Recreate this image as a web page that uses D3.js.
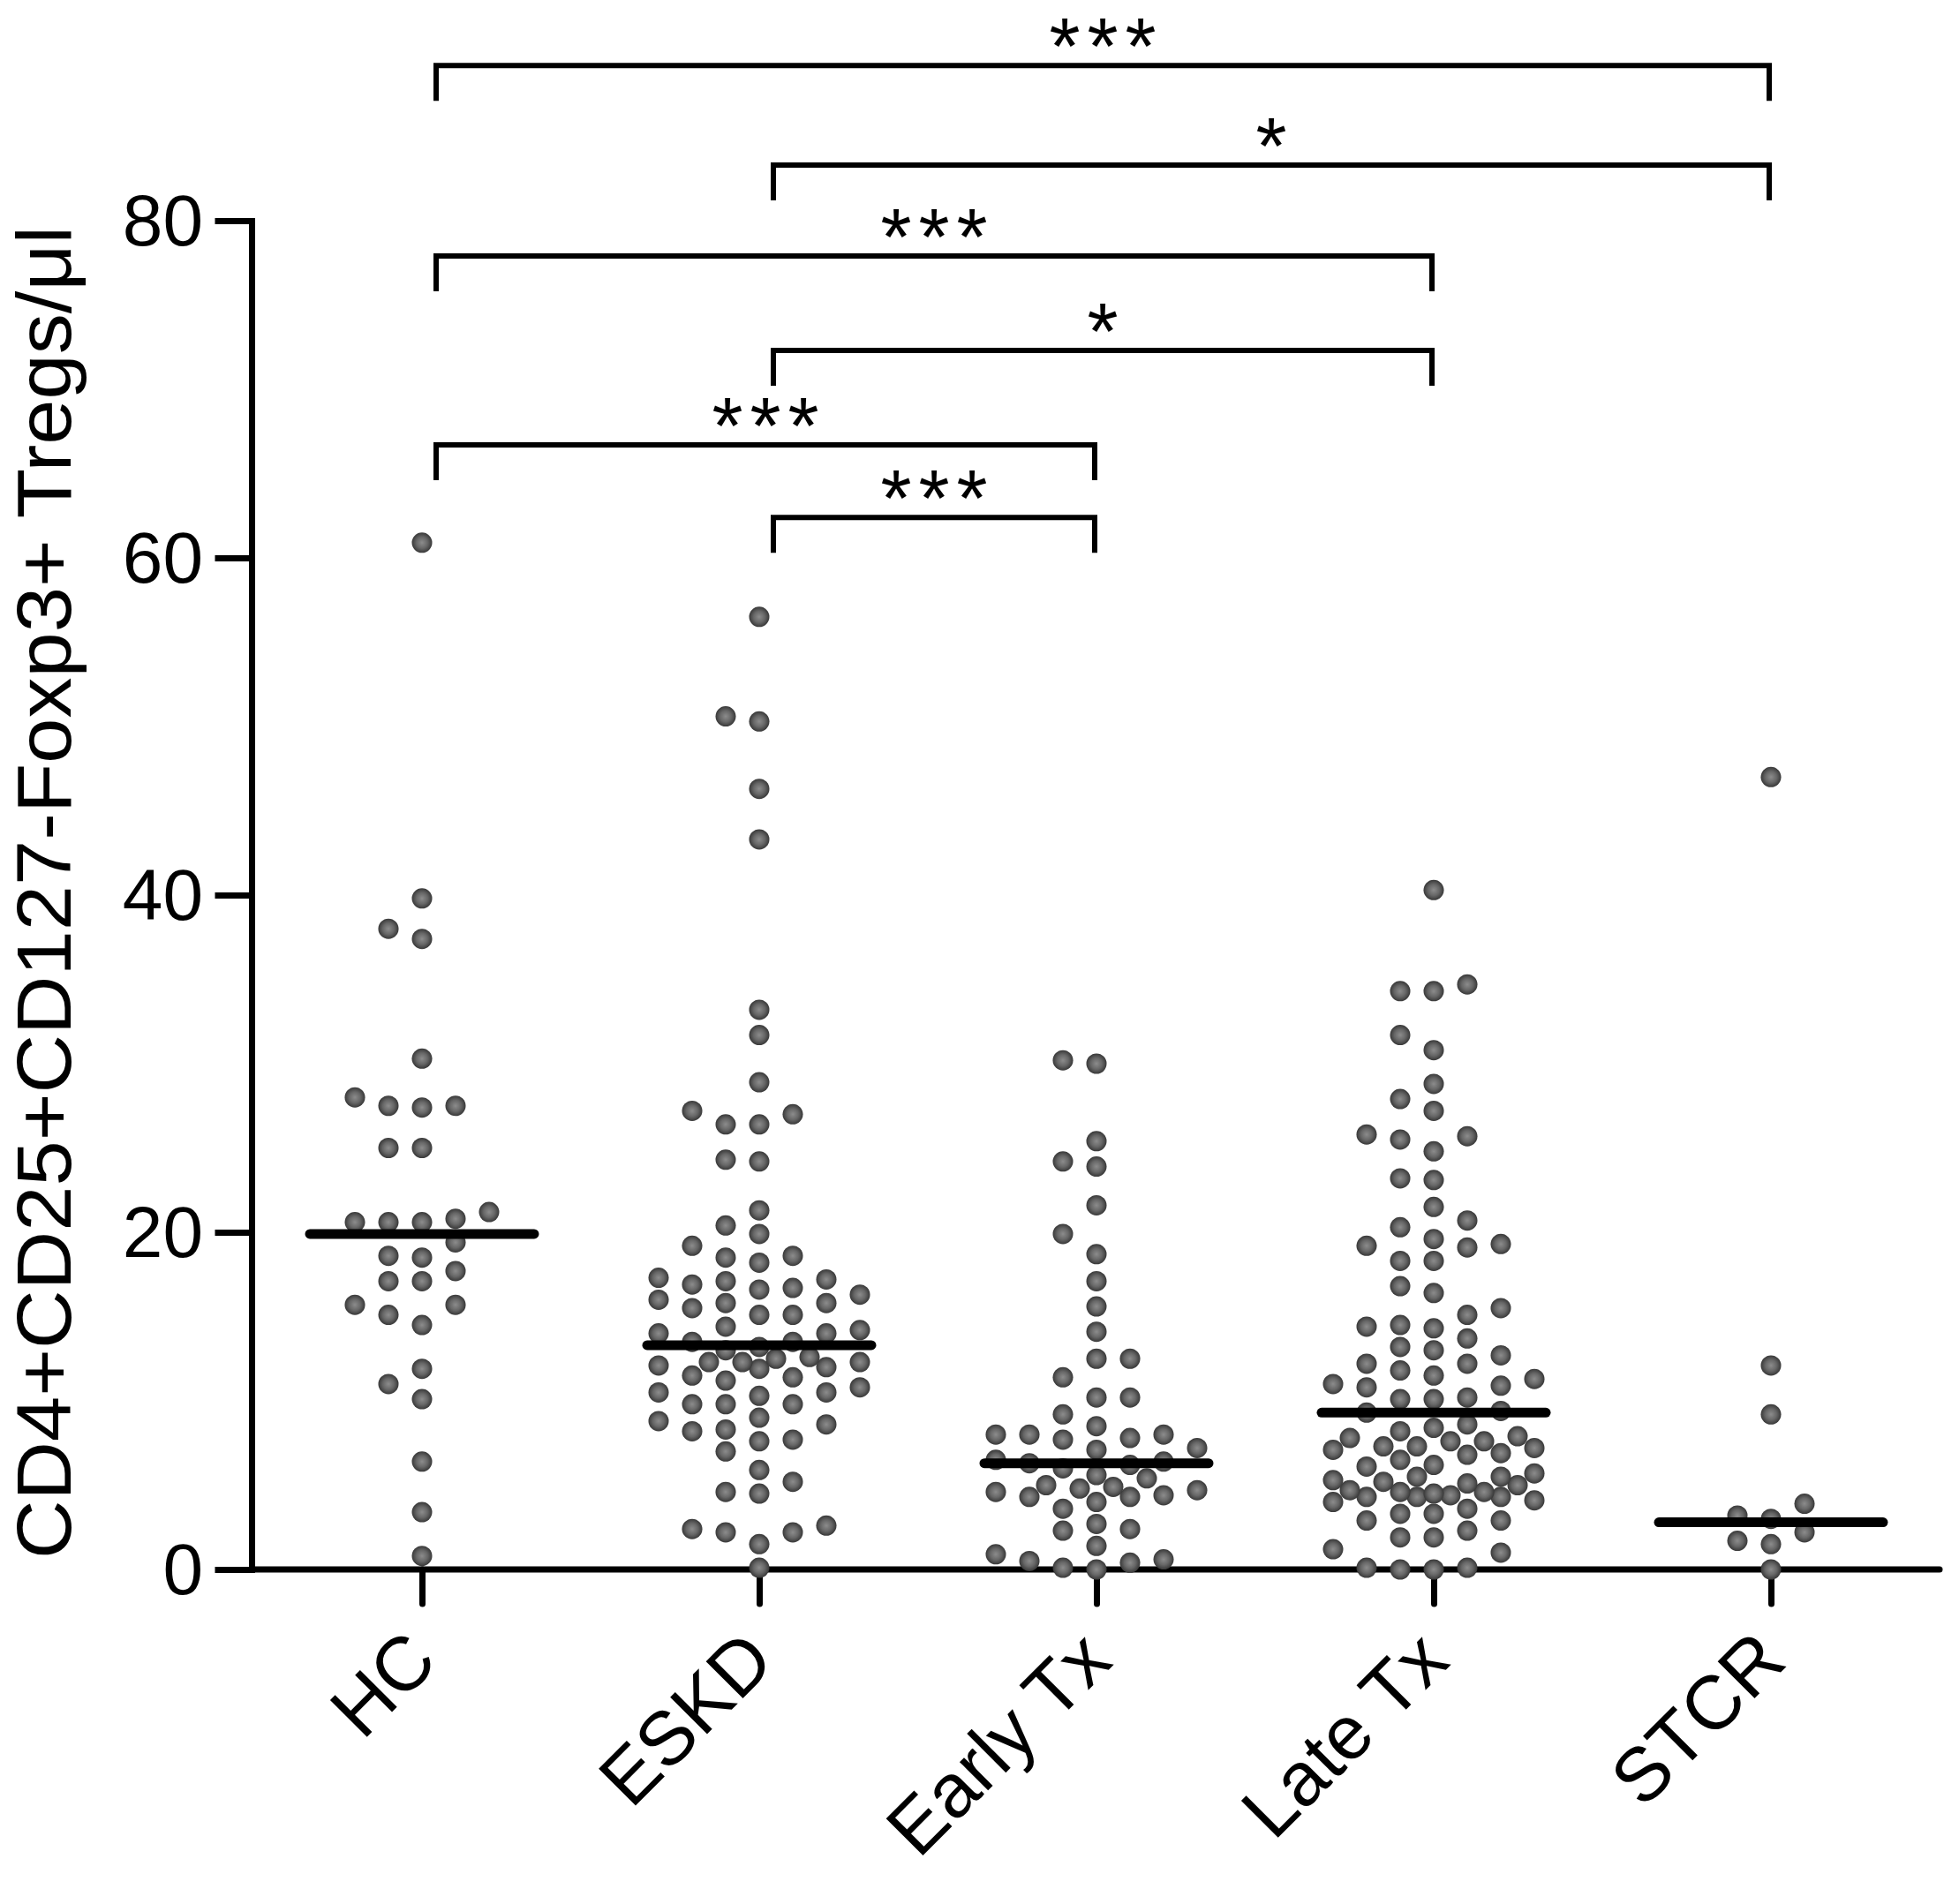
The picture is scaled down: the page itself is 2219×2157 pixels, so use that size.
<!DOCTYPE html>
<html>
<head>
<meta charset="utf-8">
<script src="https://cdn.jsdelivr.net/npm/d3@7"></script>
<style>
    html, body { margin: 0; padding: 0; background: #ffffff; }
    svg text { font-family: Arial, "Liberation Sans", Helvetica, sans-serif; fill: #000; }
</style>
</head>
<body>
<div id="chart"></div>
<script>
// Groups along the x axis
const groups = ["HC", "ESKD", "Early Tx", "Late Tx", "STCR"];

// Treg counts per group (cells/µl)
const hcValues = [60.9, 39.8, 38.0, 37.4, 30.3, 28.0, 27.5, 27.4, 27.5, 25.0, 25.0, 21.2, 20.8, 20.6, 20.6, 20.6,
    19.4, 18.6, 18.5, 17.7, 17.1, 17.1, 15.7, 15.7, 15.1, 14.5, 11.9, 11.0, 10.1, 6.4, 3.4, 0.8];

const eskdValues = [56.5, 50.6, 50.3, 46.3, 43.3, 33.2, 31.7, 28.9, 27.2, 27.0, 26.4, 26.4, 24.3, 24.2, 21.3, 20.4,
    19.9, 19.2, 18.6, 18.5, 18.2, 17.3, 17.2, 17.1, 16.9, 16.7, 16.6, 16.3, 16.0, 15.8, 15.8, 15.5, 15.1, 15.1,
    14.4, 14.2, 14.0, 14.0, 13.5, 13.5, 13.2, 13.0, 12.6, 12.5, 12.3, 12.3, 12.3, 12.1, 12.0, 11.9, 11.5, 11.4,
    11.2, 10.8, 10.5, 10.5, 10.3, 9.8, 9.8, 9.8, 9.0, 8.8, 8.6, 8.3, 8.2, 7.7, 7.6, 7.0, 5.9, 5.2, 4.6, 4.5,
    2.6, 2.4, 2.2, 2.2, 1.5, 0.1];

const earlyValues = [30.2, 30.0, 25.4, 24.2, 23.9, 21.6, 19.9, 18.7, 17.1, 15.6, 14.1, 12.5, 12.5, 11.4, 10.2, 10.2,
    9.2, 8.5, 8.0, 8.0, 8.0, 7.8, 7.7, 7.2, 7.1, 6.5, 6.4, 6.3, 6.2, 6.0, 5.6, 5.4, 5.0, 4.9, 4.8, 4.7, 4.6,
    4.4, 4.3, 4.3, 4.0, 3.6, 2.7, 2.4, 2.3, 1.4, 0.9, 0.6, 0.5, 0.4, 0.1, 0.0];

const lateValues = [40.3, 34.7, 34.3, 34.3, 31.7, 30.8, 28.8, 27.9, 27.2, 25.8, 25.7, 25.5, 24.8, 23.2, 23.1, 21.5,
    20.7, 20.3, 19.6, 19.3, 19.2, 19.1, 18.3, 18.3, 16.8, 16.4, 15.5, 15.1, 14.5, 14.4, 14.3, 13.7, 13.2, 13.0,
    12.7, 12.2, 12.2, 11.8, 11.5, 11.3, 11.0, 10.9, 10.8, 10.2, 10.1, 10.1, 9.4, 9.3, 8.6, 8.4, 8.2, 7.9, 7.8,
    7.6, 7.6, 7.3, 7.3, 7.2, 7.1, 6.9, 6.8, 6.5, 6.2, 6.1, 5.7, 5.5, 5.5, 5.3, 5.2, 5.1, 5.0, 4.7, 4.6, 4.6,
    4.5, 4.4, 4.3, 4.3, 4.3, 4.1, 4.0, 3.6, 3.3, 3.3, 2.9, 2.9, 2.3, 1.9, 1.9, 1.2, 1.0, 0.1, 0.0, 0.0, 0.1];

const stcrValues = [47.0, 12.1, 9.2, 3.9, 3.2, 3.0, 2.2, 1.7, 1.5, 0.0];

// Median bar of each group
const medians = [19.9, 13.3, 6.3, 9.3, 2.8];

// Axis
const yTicks = [0, 20, 40, 60, 80];
const yTitle = "CD4+CD25+CD127-Foxp3+ Tregs/\u03BCl";

// Significance brackets (level on the value axis)
const comparisons = [
    { from: "HC", to: "STCR", level: 89.2, label: "***" },
    { from: "ESKD", to: "STCR", level: 83.3, label: "*" },
    { from: "HC", to: "Late Tx", level: 77.9, label: "***" },
    { from: "ESKD", to: "Late Tx", level: 72.3, label: "*" },
    { from: "HC", to: "Early Tx", level: 66.7, label: "***" },
    { from: "ESKD", to: "Early Tx", level: 62.4, label: "***" }
];

class SwarmVis {
    constructor(parentElement, groups, seriesList, medians, comparisons) {
        this.parentElement = parentElement;
        this.groups = groups;
        this.seriesList = seriesList;
        this.medians = medians;
        this.comparisons = comparisons;
        this.initVis();
    }

    initVis() {
        let vis = this;

        vis.width = 2219;
        vis.height = 2157;

        vis.svg = d3.select(`#${vis.parentElement}`)
            .append("svg")
            .attr("width", vis.width)
            .attr("height", vis.height);

        // Scales
        vis.x = d3.scalePoint()
            .domain(vis.groups)
            .range([478, 2006]);

        vis.y = d3.scaleLinear()
            .domain([0, 80])
            .range([1778, 250]);

        // Dot shading: dark rim, lighter core
        let grad = vis.svg.append("defs")
            .append("radialGradient")
            .attr("id", "dot-grad");
        grad.append("stop").attr("offset", "0%").attr("stop-color", "#8c8c8c");
        grad.append("stop").attr("offset", "55%").attr("stop-color", "#676767");
        grad.append("stop").attr("offset", "100%").attr("stop-color", "#383838");

        vis.colStep = 38;
        vis.minDist = 23;
        vis.radius = 11.5;

        vis.wrangleData();
    }

    // simple column-based beeswarm, roughly what Prism does
    swarm(values, maxCol) {
        let vis = this;
        let placed = [];
        let full = [0];
        for (let k = 1; k <= maxCol; k++) full.push(-k, k);
        let half = [];
        for (let k = 0.5; k <= maxCol; k += 1) half.push(-k, k);

        values.slice().sort((a, b) => a - b).forEach(v => {
            let py = vis.y(v);
            let gapAt = dx => {
                let g = Infinity;
                placed.forEach(p => { g = Math.min(g, Math.hypot(p.dx - dx, p.py - py)); });
                return g;
            };
            let chosen = null;
            for (let c of full) {
                if (gapAt(c * vis.colStep) >= vis.minDist) { chosen = c * vis.colStep; break; }
            }
            if (chosen === null) {
                let best = -1;
                full.concat(half).forEach(c => {
                    let g = gapAt(c * vis.colStep);
                    if (g > best + 0.5) { best = g; chosen = c * vis.colStep; }
                });
            }
            placed.push({ value: v, dx: chosen, py: py });
        });
        return placed;
    }

    wrangleData() {
        let vis = this;
        vis.points = [];
        vis.seriesList.forEach((vals, i) => {
            let maxCol = vals.length < 15 ? 1 : 3;
            vis.swarm(vals, maxCol).forEach(p => {
                vis.points.push({ group: vis.groups[i], value: p.value, dx: p.dx });
            });
        });
        vis.updateVis();
    }

    updateVis() {
        let vis = this;

        // Y axis
        let yAxis = d3.axisLeft(vis.y)
            .tickValues(yTicks)
            .tickSize(38)
            .tickSizeOuter(0)
            .tickPadding(17);

        let yg = vis.svg.append("g")
            .attr("class", "y-axis")
            .attr("transform", "translate(285,0)")
            .call(yAxis);
        yg.attr("font-size", null).attr("font-family", null);
        yg.selectAll("path, line")
            .attr("stroke", "#000")
            .attr("stroke-width", 7)
            .attr("stroke-linecap", "square");
        yg.selectAll("text")
            .style("font-size", "82px")
            .attr("dy", "0.33em");

        // X axis baseline + ticks
        vis.svg.append("line")
            .attr("x1", 285).attr("x2", 2197)
            .attr("y1", vis.y(0)).attr("y2", vis.y(0))
            .attr("stroke", "#000")
            .attr("stroke-width", 7)
            .attr("stroke-linecap", "round");

        let xAxis = d3.axisBottom(vis.x)
            .tickSize(39)
            .tickSizeOuter(0);

        let xg = vis.svg.append("g")
            .attr("class", "x-axis")
            .attr("transform", `translate(0,${vis.y(0)})`)
            .call(xAxis);
        xg.attr("font-size", null).attr("font-family", null);
        xg.select(".domain").remove();
        xg.selectAll("line")
            .attr("stroke", "#000")
            .attr("stroke-width", 7)
            .attr("stroke-linecap", "round");
        xg.selectAll("text")
            .attr("x", 0)
            .attr("y", 0)
            .attr("dy", 0)
            .attr("transform", "translate(20,107) rotate(-45)")
            .style("text-anchor", "end")
            .style("font-size", "86px");

        // Y title
        vis.svg.append("text")
            .attr("class", "y-title")
            .attr("transform", "translate(80,1011) rotate(-90)")
            .attr("text-anchor", "middle")
            .attr("textLength", 1510)
            .attr("lengthAdjust", "spacingAndGlyphs")
            .style("font-size", "87px")
            .text(yTitle);

        // Dots
        vis.svg.append("g")
            .attr("class", "dots")
            .selectAll("circle")
            .data(vis.points)
            .join("circle")
            .attr("cx", d => vis.x(d.group) + d.dx)
            .attr("cy", d => vis.y(d.value))
            .attr("r", vis.radius)
            .attr("fill", "url(#dot-grad)");

        // Median bars
        vis.svg.append("g")
            .attr("class", "medians")
            .selectAll("line")
            .data(vis.groups.map((g, i) => ({ group: g, value: vis.medians[i] })))
            .join("line")
            .attr("x1", d => vis.x(d.group) - 127)
            .attr("x2", d => vis.x(d.group) + 127)
            .attr("y1", d => vis.y(d.value))
            .attr("y2", d => vis.y(d.value))
            .attr("stroke", "#000")
            .attr("stroke-width", 11)
            .attr("stroke-linecap", "round");

        // Significance brackets
        let br = vis.svg.append("g")
            .attr("class", "brackets")
            .selectAll("g")
            .data(vis.comparisons)
            .join("g");

        br.append("path")
            .attr("d", d => {
                let x1 = vis.x(d.from) + 16;
                let x2 = vis.x(d.to) - 2;
                let yy = vis.y(d.level);
                return `M${x1},${yy + 40}V${yy}H${x2}V${yy + 40}`;
            })
            .attr("fill", "none")
            .attr("stroke", "#000")
            .attr("stroke-width", 6);

        // stars: a bit smaller font, spaced out to keep the width
        br.append("text")
            .attr("x", d => (vis.x(d.from) + 16 + vis.x(d.to) - 2) / 2 + 4)
            .attr("y", d => vis.y(d.level) + 10)
            .attr("text-anchor", "middle")
            .style("font-size", "90px")
            .style("letter-spacing", "8px")
            .text(d => d.label);
    }
}

new SwarmVis("chart", groups,
    [hcValues, eskdValues, earlyValues, lateValues, stcrValues],
    medians, comparisons);
</script>
</body>
</html>
